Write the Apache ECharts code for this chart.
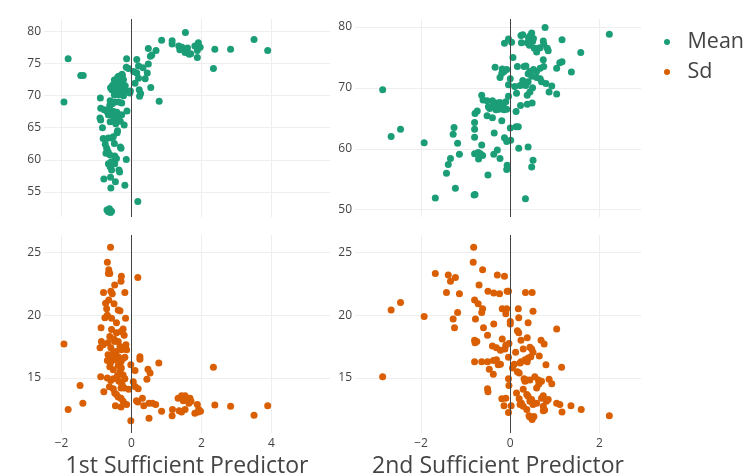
<!DOCTYPE html>
<html>
<meta charset="UTF-8">
<title>sufficient-predictors</title>
<style type="text/css">
    html,
    body {
        margin: 0px;
        height: 100%;
        width: 100%;
        background: #fff;
    }

    #chart {
        width: 754px;
        height: 474px;
    }
</style>
<script src="https://cdn.jsdelivr.net/npm/echarts@6/dist/echarts.min.js"></script>

<body>
    <div id="chart"></div>
    <script>

        // [predictor, response] pairs
        const sp1Mean = [
            [-1.93, 69.0], [-1.81, 75.7], [-1.45, 73.1], [-1.38, 73.1],
            [0.86, 78.6], [1.16, 78.5], [1.16, 78.0], [1.35, 77.7], [1.38, 77.1], [1.44, 77.5], [1.54, 79.8],
            [1.6, 77.4], [1.53, 76.7], [1.65, 76.4], [1.69, 76.5], [1.81, 77.7], [1.91, 78.2], [1.88, 77.0],
            [1.96, 77.5], [1.88, 75.9], [2.38, 77.2], [2.34, 74.2], [2.83, 77.2], [3.5, 78.7], [3.89, 77.0],
            [0.79, 69.1], [0.18, 53.5],
            [0.48, 77.3], [0.70, 77.0], [0.54, 76.1], [0.58, 76.3], [0.15, 75.6], [-0.14, 75.7], [0.48, 74.9],
            [0.2, 74.6], [0.33, 74.3], [-0.15, 74.4], [-0.09, 74.2], [0.06, 73.75], [0.15, 73.5], [0.45, 73.5],
            [0.2, 72.7], [0.39, 72.6], [0.1, 71.9], [0.55, 71.25], [-0.03, 70.7], [0.22, 70.9], [0.26, 70.3], [0.23, 69.9],
            [-0.30, 72.7], [-0.37, 73.0], [-0.26, 73.1], [-0.49, 72.4], [-0.42, 72.2], [-0.32, 72.3], [-0.23, 72.45],
            [-0.54, 71.6], [-0.47, 71.5], [-0.37, 71.6], [-0.28, 71.7], [-0.18, 71.5], [-0.56, 70.9], [-0.44, 70.6],
            [-0.35, 70.4], [-0.23, 70.5], [-0.13, 70.7], [-0.49, 70.1], [-0.37, 70.1], [-0.23, 69.95], [-0.05, 70.4],
            [-0.27, 73.3], [-0.4, 72.8], [-0.6, 71.2], [-0.3, 71.1],
            [-0.89, 69.6], [-0.61, 69.2], [-0.56, 68.95], [-0.47, 69.0], [-0.37, 69.0], [-0.28, 68.85], [-0.55, 68.7],
            [-0.62, 68.5], [-0.13, 67.6], [-0.88, 68.0], [-0.78, 67.8], [-0.67, 67.8], [-0.61, 67.8], [-0.51, 67.5],
            [-0.42, 67.4], [-0.7, 67.5], [-0.66, 67.0], [-0.56, 67.0], [-0.47, 66.7], [-0.37, 67.0], [-0.28, 67.0],
            [-0.5, 66.3], [-0.42, 66.0],
            [-0.9, 66.5], [-0.88, 66.2], [-0.61, 65.9], [-0.32, 66.0], [-0.45, 65.6], [-0.21, 65.4], [-0.83, 65.0],
            [-0.4, 64.5], [-0.41, 64.2], [-0.81, 63.3], [-0.75, 63.2], [-0.66, 63.4], [-0.56, 63.4], [-0.52, 63.6],
            [-0.75, 62.4], [-0.49, 62.55], [-0.71, 61.8], [-0.32, 62.0], [-0.3, 61.8], [-0.73, 61.0], [-0.67, 61.25],
            [-0.62, 60.8], [-0.15, 60.05], [-0.48, 60.6], [-0.43, 60.2], [-0.66, 59.4], [-0.61, 58.9], [-0.55, 59.3],
            [-0.48, 59.4], [-0.58, 59.7], [-0.57, 58.4], [-0.36, 58.4], [-0.34, 58.1],
            [-0.79, 57.0], [-0.6, 57.3], [-0.46, 56.6], [-0.19, 56.05], [-0.59, 55.6], [-0.7, 52.2], [-0.63, 52.4],
            [-0.6, 51.8], [-0.66, 51.9], [-0.57, 52.0]
        ];

        const sp2Mean = [
            [-2.86, 69.7], [-2.67, 62.0], [-2.46, 63.2], [-1.93, 61.0], [-1.68, 51.9], [-1.43, 56.0], [-1.23, 53.5],
            [-1.39, 57.4], [-1.34, 58.4], [-1.26, 63.5], [-1.28, 62.4], [-1.18, 60.9], [-1.14, 59.1], [-0.81, 52.4],
            [-0.79, 52.5], [-0.5, 55.7], [2.22, 78.8], [1.58, 75.8], [1.37, 72.6], [1.16, 77.9], [1.16, 74.3],
            [1.11, 74.1], [1.04, 73.2], [1.04, 69.0], [0.87, 69.3], [0.93, 70.3], [0.34, 51.8], [0.48, 57.0],
            [0.51, 58.1], [0.4, 60.3], [0.19, 60.1],
            [0.78, 79.9], [0.24, 78.6], [0.28, 78.7], [0.41, 78.2], [0.48, 79.0], [0.44, 78.5], [0.52, 78.1],
            [0.5, 77.6], [0.38, 77.4], [0.25, 77.4], [0.43, 77.0], [0.54, 76.5], [0.63, 76.5], [0.59, 75.9],
            [0.67, 76.6], [0.74, 77.7], [0.75, 77.2], [0.83, 76.5], [0.85, 76.1], [-0.13, 77.3], [-0.04, 78.0],
            [0.03, 77.5], [0.06, 75.0],
            [-0.34, 73.4], [-0.18, 73.1], [-0.14, 72.7], [-0.19, 72.4], [-0.23, 71.7], [-0.08, 73.0], [0.16, 73.5],
            [0.31, 73.5], [0.35, 73.6], [0.74, 74.6], [0.75, 73.5], [0.67, 73.2], [0.59, 72.7], [0.52, 73.0],
            [0.44, 72.7], [0.40, 72.3], [0.48, 71.9], [0.59, 71.7], [0.67, 71.5], [0.70, 71.0], [0.80, 70.7],
            [0.0, 71.5], [-0.04, 70.5], [0.10, 70.2], [0.22, 70.4], [0.29, 70.5], [0.35, 70.4], [0.40, 71.0],
            [0.44, 69.3], [0.38, 68.8], [0.5, 70.0], [0.14, 69.1], [0.28, 71.2],
            [-0.64, 68.8], [-0.61, 68.0], [-0.52, 67.9], [-0.40, 67.9], [-0.37, 67.2], [-0.29, 67.5], [-0.23, 67.6],
            [-0.16, 67.2], [-0.1, 67.7], [-0.04, 68.6], [-0.08, 66.5], [-0.49, 66.9], [-0.46, 66.6], [-0.32, 66.4],
            [-0.25, 66.5], [-0.19, 66.6], [-0.14, 66.4], [0.23, 67.1], [0.38, 67.3], [0.49, 67.5], [0.13, 66.1],
            [-0.79, 65.8], [-0.74, 66.2], [-0.52, 65.4], [-0.40, 65.1], [-0.19, 64.6], [-0.8, 64.3], [-0.8, 63.2],
            [-0.8, 61.9], [-0.36, 62.6], [0.0, 63.4], [0.13, 63.6], [0.18, 63.6], [-0.13, 61.8], [-0.08, 61.2],
            [0.01, 61.4], [-0.64, 60.6], [-0.80, 59.2], [-0.72, 59.4], [-0.67, 59.2], [-0.62, 58.9], [-0.71, 58.3],
            [-0.37, 59.1], [-0.29, 59.8], [-0.23, 58.4], [-0.08, 56.6], [-0.07, 57.3]
        ];

        const sp1Sd = [
            [-1.93, 17.7], [-1.81, 12.5], [-1.47, 14.4], [-1.39, 13.0], [-0.88, 15.1], [-0.9, 17.4], [-0.86, 17.9],
            [-0.87, 19.0], [-0.79, 13.9], [-0.6, 25.4], [-0.69, 24.2], [-0.65, 23.6], [-0.62, 23.3], [-0.66, 23.3],
            [-0.29, 23.1], [-0.30, 22.7], [0.18, 23.0], [-0.48, 22.4], [-0.8, 21.8], [-0.59, 21.9], [-0.55, 21.7],
            [-0.19, 21.8],
            [-0.74, 20.95], [-0.65, 21.2], [-0.50, 20.9], [-0.38, 20.4], [-0.33, 20.35], [-0.71, 20.5], [-0.69, 20.0],
            [-0.76, 19.8], [-0.57, 19.75], [-0.43, 19.4], [-0.17, 19.75], [-0.57, 18.85], [-0.43, 18.6],
            [-0.30, 18.7], [-0.24, 18.9], [-0.21, 18.4], [-0.81, 17.65], [-0.67, 17.8], [-0.59, 17.4], [-0.48, 17.9],
            [-0.38, 17.9], [-0.33, 17.5], [-0.29, 17.25], [-0.16, 17.65], [-0.14, 17.25], [-0.67, 16.85],
            [-0.57, 16.6], [-0.48, 16.45], [-0.38, 16.7], [-0.30, 16.3], [-0.24, 16.55], [-0.19, 16.65],
            [-0.69, 16.4], [-0.62, 15.9], [-0.52, 15.65], [-0.38, 16.0], [-0.29, 15.8], [-0.33, 15.5], [-0.24, 15.25],
            [-0.19, 14.95], [-0.69, 15.0], [-0.59, 14.8], [-0.52, 14.95], [-0.36, 14.75], [-0.27, 14.5],
            [-0.21, 14.2], [-0.30, 14.2], [-0.52, 14.15], [-0.48, 13.8], [-0.43, 13.7], [-0.38, 13.5], [-0.30, 13.4],
            [-0.24, 13.15], [-0.14, 12.9], [-0.46, 12.8], [-0.30, 12.7], [-0.6, 16.2], [-0.55, 16.9], [-0.45, 17.1],
            [-0.62, 18.3], [-0.5, 18.1], [-0.4, 15.2], [-0.63, 14.3],
            [-0.02, 16.05], [0.1, 15.6], [0.05, 14.7], [0.11, 14.3], [0.19, 14.15], [-0.08, 14.1], [0.24, 16.7],
            [0.24, 16.5], [0.47, 15.7], [0.53, 15.4], [0.44, 14.9], [0.78, 16.2], [2.34, 15.85], [-0.02, 11.6],
            [0.31, 13.4], [0.35, 12.8], [0.14, 13.2], [0.18, 13.1], [0.5, 13.0], [0.6, 13.0], [0.69, 12.9],
            [0.5, 11.8], [0.86, 12.35], [1.17, 12.5], [1.16, 12.0], [1.33, 13.4], [1.43, 13.6], [1.53, 13.6],
            [1.48, 13.2], [1.59, 13.3], [1.67, 13.4], [1.70, 13.15], [1.64, 13.0], [1.36, 12.4], [1.43, 12.3],
            [1.53, 12.5], [1.81, 12.2], [1.9, 12.3], [1.88, 12.9], [1.92, 12.5], [1.97, 12.35], [2.38, 12.85],
            [2.83, 12.75], [3.5, 12.05], [3.89, 12.8]
        ];

        const sp2Sd = [
            [-2.86, 15.1], [-2.67, 20.4], [-2.46, 21.0], [-1.93, 19.9], [-1.68, 23.3], [-1.43, 21.8], [-1.39, 23.2],
            [-1.34, 22.7], [-1.23, 23.0], [-1.14, 21.7], [-1.18, 20.2], [-1.28, 19.7], [-1.25, 19.0], [-0.82, 25.4],
            [-0.83, 24.2], [-0.62, 23.6], [-0.29, 23.2], [-0.13, 23.1], [-0.7, 22.4], [-0.5, 21.9], [-0.37, 21.75],
            [-0.24, 21.7], [-0.07, 21.9], [-0.04, 21.9], [0.34, 21.8], [0.49, 21.8], [-0.8, 21.2], [-0.72, 20.9],
            [-0.62, 20.5], [-0.64, 20.2], [-0.78, 19.7], [-0.18, 20.5], [-0.08, 20.5], [-0.1, 20.1], [0.0, 19.5],
            [0.0, 19.3], [0.18, 20.5], [0.19, 19.8], [0.51, 20.3], [-0.37, 19.3], [-0.6, 19.0], [0.4, 19.4],
            [1.04, 18.9], [-0.8, 18.0], [-0.75, 17.9], [-0.79, 17.8], [-0.51, 18.4], [-0.18, 18.1], [0.16, 18.75],
            [0.19, 18.6], [0.24, 18.0], [0.38, 18.2], [0.69, 18.0], [0.76, 17.7], [-0.03, 17.75], [0.12, 17.05],
            [0.29, 17.3], [0.65, 16.75], [-0.8, 16.3], [-0.64, 16.3], [-0.04, 16.65], [0.8, 16.05], [1.15, 15.85],
            [-0.40, 17.55], [-0.31, 17.4], [-0.22, 17.2], [-0.12, 17.3], [-0.10, 17.6], [0.44, 17.45], [0.48, 17.3],
            [0.51, 17.05], [0.46, 16.7], [0.40, 16.6], [0.33, 16.45], [0.38, 16.3], [-0.51, 16.3], [-0.38, 16.4],
            [-0.31, 16.45], [-0.22, 16.1], [0.05, 15.8], [0.09, 16.1], [0.22, 16.2], [0.24, 16.3], [-0.47, 15.7],
            [-0.38, 15.3], [-0.27, 16.05], [-0.04, 14.95], [-0.03, 14.4], [0.16, 15.5], [0.2, 15.4], [0.31, 14.95],
            [0.33, 14.75], [0.37, 14.85], [0.44, 14.85], [0.55, 15.1], [0.63, 14.85], [0.70, 14.75], [0.87, 14.9],
            [0.93, 14.55], [-0.51, 14.15], [-0.5, 13.9], [-0.19, 13.35], [-0.10, 13.4], [-0.14, 12.8], [-0.04, 12.25],
            [0.02, 12.8], [0.14, 13.8], [0.2, 13.35], [0.25, 13.0], [0.22, 12.9], [0.29, 12.75], [0.37, 12.5],
            [0.29, 14.1], [0.37, 13.7], [0.40, 13.55], [0.44, 13.15], [0.48, 13.3], [0.51, 12.9], [0.59, 13.0],
            [0.70, 13.4], [0.74, 13.6], [0.74, 12.75], [0.81, 13.15], [0.85, 13.3], [0.42, 12.0], [0.44, 11.9],
            [0.49, 11.7], [0.53, 11.95], [0.64, 14.5], [0.59, 14.2], [1.04, 13.0], [1.11, 12.9], [1.36, 12.8],
            [1.59, 12.5], [1.16, 12.3], [2.22, 12.0], [0.74, 12.4], [0.77, 12.45]
        ];

        const xTicks1 = [-2, 0, 2, 4];
        const xTicks2 = [-2, 0, 2];
        const yTicksMean1 = [55, 60, 65, 70, 75, 80];
        const yTicksMean2 = [50, 60, 70, 80];
        const yTicksSd = [15, 20, 25];
        const xTitles = ['1st Sufficient Predictor', '2nd Sufficient Predictor'];

        const green = '#1b9e77';
        const orange = '#d95f02';
        const font = '"Open Sans", Verdana, Arial, sans-serif';
        const minus = v => String(v).replace('-', '\u2212');

        const chart = echarts.init(document.querySelector('#chart'), null, { renderer: 'canvas' });

        // fixed plot boxes; v6 would otherwise shrink them to fit the axis names
        const grids = [
            { left: 44, top: 19, width: 286, height: 198, outerBoundsMode: 'none' },
            { left: 355, top: 19, width: 286, height: 198, outerBoundsMode: 'none' },
            { left: 44, top: 235, width: 286, height: 198, outerBoundsMode: 'none' },
            { left: 355, top: 235, width: 286, height: 198, outerBoundsMode: 'none' }
        ];

        function xAxis(idx, ticks, min, max, title) {
            return {
                type: 'value', gridIndex: idx, min: min, max: max,
                axisLine: { show: false },
                axisTick: { show: false, customValues: ticks },
                axisLabel: {
                    show: !!title, customValues: ticks, formatter: minus,
                    color: '#444', fontSize: 12, fontFamily: font, margin: 5
                },
                splitLine: { lineStyle: { color: '#eee', width: 1 } },
                name: title || '', nameLocation: 'middle', nameGap: 22,
                nameTextStyle: { color: '#444', fontSize: 23, fontFamily: font }
            };
        }

        function yAxis(idx, ticks, min, max) {
            return {
                type: 'value', gridIndex: idx, min: min, max: max,
                axisLine: { show: false },
                axisTick: { show: false, customValues: ticks },
                axisLabel: {
                    customValues: ticks, color: '#444', fontSize: 12, fontFamily: font, margin: 3
                },
                splitLine: { lineStyle: { color: '#eee', width: 1 } }
            };
        }

        const zeroLine = {
            silent: true,
            symbol: ['none', 'none'],
            label: { show: false },
            lineStyle: { color: '#444', width: 1, type: 'solid' },
            data: [{ xAxis: 0 }]
        };

        function scatter(name, idx, data, color) {
            return {
                name: name, type: 'scatter', xAxisIndex: idx, yAxisIndex: idx,
                data: data, symbolSize: 7,
                itemStyle: { color: color, opacity: 1 },
                markLine: zeroLine,
                z: 3
            };
        }

        const options = {
            animation: false,
            backgroundColor: '#fff',
            grid: grids,
            xAxis: [
                xAxis(0, xTicks1, -2.5, 5.67),
                xAxis(1, xTicks2, -3.48, 2.93),
                xAxis(2, xTicks1, -2.5, 5.67, xTitles[0]),
                xAxis(3, xTicks2, -3.48, 2.93, xTitles[1])
            ],
            yAxis: [
                yAxis(0, yTicksMean1, 51.1, 81.9),
                yAxis(1, yTicksMean2, 48.8, 81.3),
                yAxis(2, yTicksSd, 10.63, 26.37),
                yAxis(3, yTicksSd, 10.63, 26.37)
            ],
            legend: {
                orient: 'vertical',
                left: 659, top: 26,
                itemWidth: 25, itemHeight: 6, itemGap: 8,
                icon: 'circle',
                textStyle: { color: '#444', fontSize: 21.5, fontFamily: font, padding: [0, 0, 0, 3] },
                data: ['Mean', 'Sd']
            },
            series: [
                scatter('Mean', 0, sp1Mean, green),
                scatter('Mean', 1, sp2Mean, green),
                scatter('Sd', 2, sp1Sd, orange),
                scatter('Sd', 3, sp2Sd, orange)
            ]
        };
        chart.setOption(options);

    </script>
</body>

</html>
